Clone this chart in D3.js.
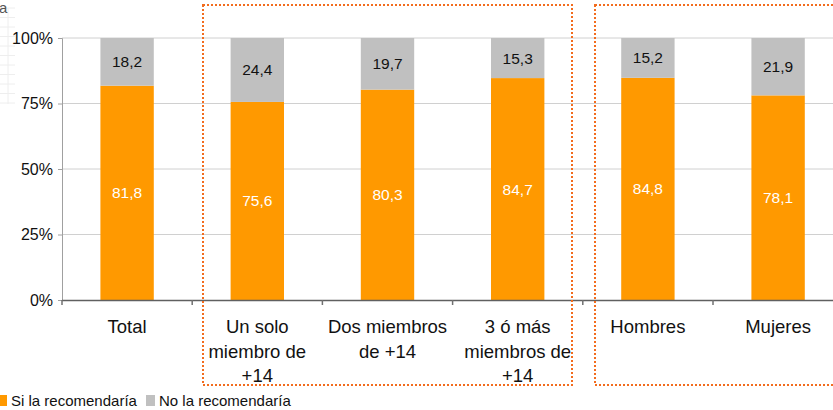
<!DOCTYPE html>
<html>
<head>
<meta charset="utf-8">
<script src="https://cdn.jsdelivr.net/npm/d3@7"></script>
<style>
  body { margin: 0; background: #fff; }
  svg { display: block; font-family: "Liberation Sans", Arial, sans-serif; }
</style>
</head>
<body>
<div id="chart"></div>
<script>
var categories = ['Total', 'Un solo miembro de +14', 'Dos miembros de +14', '3 ó más miembros de +14', 'Hombres', 'Mujeres'];
var catLines = [['Total'], ['Un solo', 'miembro de', '+14'], ['Dos miembros', 'de +14'], ['3 ó más', 'miembros de', '+14'], ['Hombres'], ['Mujeres']];
var siValues = [81.8, 75.6, 80.3, 84.7, 84.8, 78.1];
var noValues = [18.2, 24.4, 19.7, 15.3, 15.2, 21.9];
var seriesNames = ['Si la recomendaría', 'No la recomendaría'];
var yTicks = [0, 25, 50, 75, 100];

var width = 833, height = 410;
var colors = ['#ff9900', '#c0c0c0'];

var svg = d3.select('#chart')
    .append('svg')
    .attr('width', width)
    .attr('height', height)

// faint grid pattern leftover top-left
var bg = svg.append('g')
for (var i = 0; i <= 10; i++) {
    bg.append('line').attr('x1', 0).attr('x2', 15).attr('y1', 8 + i * 9.5).attr('y2', 8 + i * 9.5)
        .attr('stroke', '#eeeeee').attr('stroke-width', 1)
}
bg.append('line').attr('x1', 8).attr('x2', 8).attr('y1', 8).attr('y2', 104).attr('stroke', '#eeeeee')
svg.append('text').attr('x', -1).attr('y', 13).attr('font-size', 15).attr('fill', '#555').text('a')

var x = d3.scaleBand()
    .domain(categories)
    .range([62, 62 + 130.2 * 6])
    .paddingInner(0.59)
    .paddingOuter(0.295)

var y = d3.scaleLinear().domain([0, 100]).range([300, 38])

// gridlines
svg.append('g')
    .selectAll('line')
    .data(yTicks.slice(1))
    .enter()
    .append('line')
    .attr('x1', 62)
    .attr('x2', width)
    .attr('y1', function(d){return y(d)})
    .attr('y2', function(d){return y(d)})
    .attr('stroke', '#d0d0d0')
    .attr('stroke-width', 1)

// y axis
var yAxis = svg.append('g')
    .attr('transform', 'translate(62,0)')
    .call(d3.axisLeft(y).tickValues(yTicks).tickSize(4).tickPadding(5).tickFormat(function(d){return d + '%'}))
yAxis.select('.domain').attr('stroke', '#a0a0a0')
yAxis.selectAll('.tick line').attr('stroke', '#a0a0a0')
yAxis.selectAll('text').attr('font-size', 16).attr('fill', '#111').attr('font-family', '"Liberation Sans", Arial, sans-serif')

// stacked bars
var stackData = categories.map(function(c, i){return {cat: c, si: siValues[i], no: noValues[i]}})
var stacked = d3.stack().keys(['si', 'no'])(stackData)

var layers = svg.append('g')
    .selectAll('g')
    .data(stacked)
    .enter()
    .append('g')
    .attr('fill', function(d, i){return colors[i]})

layers.selectAll('rect')
    .data(function(d){return d})
    .enter()
    .append('rect')
    .attr('x', function(d){return x(d.data.cat)})
    .attr('width', x.bandwidth())
    .attr('y', function(d){return y(Math.min(d[1], 100))})
    .attr('height', function(d){return y(d[0]) - y(Math.min(d[1], 100))})

layers.selectAll('text')
    .data(function(d){return d.map(function(p){p.key = d.key; return p})})
    .enter()
    .append('text')
    .attr('x', function(d){return x(d.data.cat) + x.bandwidth() / 2})
    .attr('y', function(d){return (y(d[0]) + y(Math.min(d[1], 100))) / 2 + 5.5})
    .attr('text-anchor', 'middle')
    .attr('font-size', 15.5)
    .attr('fill', function(d){return d.key == 'si' ? '#ffffff' : '#111111'})
    .text(function(d){return d3.format('.1f')(d.data[d.key]).replace('.', ',')})

// x axis
svg.append('line')
    .attr('x1', 62).attr('x2', width)
    .attr('y1', 300.5).attr('y2', 300.5)
    .attr('stroke', '#606060').attr('stroke-width', 1.5)

svg.append('g')
    .selectAll('line')
    .data(categories)
    .enter()
    .append('line')
    .attr('x1', function(d){return x(d) - x.step() * x.paddingOuter()})
    .attr('x2', function(d){return x(d) - x.step() * x.paddingOuter()})
    .attr('y1', 300)
    .attr('y2', 305)
    .attr('stroke', '#707070')
    .attr('stroke-width', 1.5)

var labels = svg.append('g')
    .selectAll('text')
    .data(categories)
    .enter()
    .append('text')
    .attr('text-anchor', 'middle')
    .attr('font-size', 18.5)
    .attr('fill', '#111')

labels.selectAll('tspan')
    .data(function(d, i){return catLines[i].map(function(t){return {cat: d, t: t}})})
    .enter()
    .append('tspan')
    .attr('x', function(d){return x(d.cat) + x.bandwidth() / 2})
    .attr('y', function(d, j){return 333 + j * 24.5})
    .text(function(d){return d.t})

// dotted group boxes
var boxes = [{x1: 203, x2: 572, y1: 5, y2: 385}, {x1: 595, x2: 840, y1: 5, y2: 385}]
svg.append('g')
    .selectAll('rect')
    .data(boxes)
    .enter()
    .append('rect')
    .attr('x', function(d){return d.x1})
    .attr('y', function(d){return d.y1})
    .attr('width', function(d){return d.x2 - d.x1})
    .attr('height', function(d){return d.y2 - d.y1})
    .attr('fill', 'none')
    .attr('stroke', '#f26c1e')
    .attr('stroke-width', 2)
    .attr('stroke-dasharray', '2,2')

// legend
var legend = svg.append('g')
    .selectAll('g')
    .data(seriesNames)
    .enter()
    .append('g')
    .attr('transform', function(d, i){return 'translate(' + (i == 0 ? -2 : 146) + ',0)'})
legend.append('rect')
    .attr('x', 0).attr('y', 395).attr('width', 9).attr('height', 11)
    .attr('fill', function(d, i){return colors[i]})
legend.append('text')
    .attr('x', 13).attr('y', 406)
    .attr('font-size', 15)
    .attr('fill', '#111')
    .text(function(d){return d})
</script>
</body>
</html>
